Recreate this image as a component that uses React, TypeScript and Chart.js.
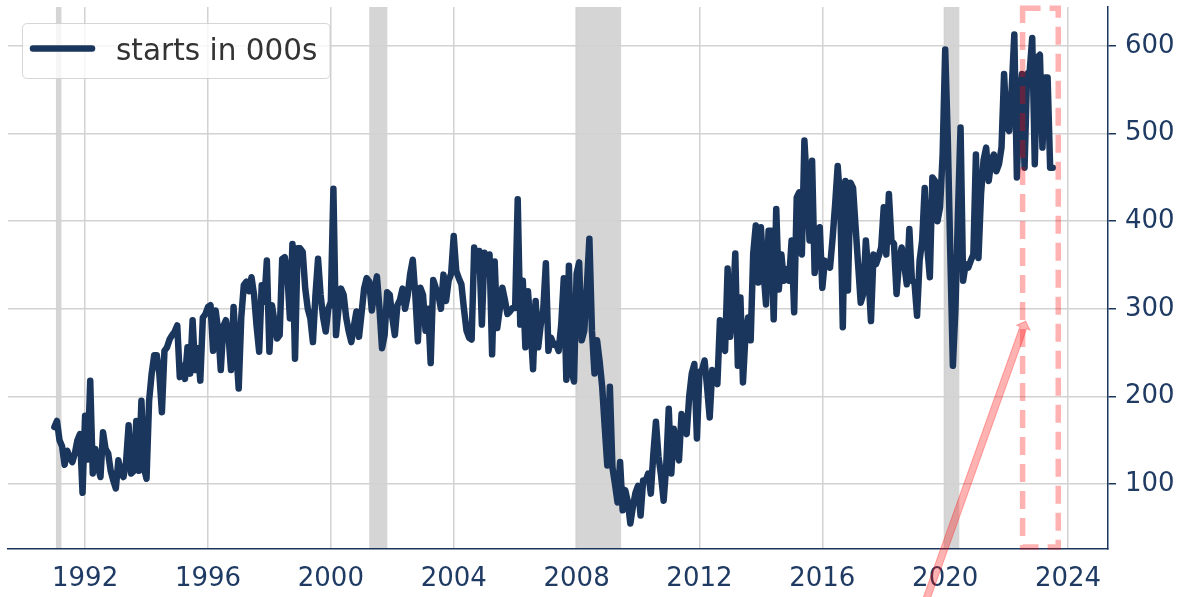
import React, { useEffect, useRef } from "react";
import { Chart, registerables } from "chart.js";

Chart.register(...registerables);

// ---- data (monthly, thousands of units), first value = Jan 1991 ----
const FIRST_YEAR = 1991;
const seriesLabel = "starts in 000s";

const starts1990s = [
  165, 172, 150, 143, 122, 138, 130, 125, 135, 150, 157, 90, // 1991
  178, 128, 218, 112, 140, 120, 108, 159, 140, 135, 115, 104, // 1992
  95, 127, 112, 108, 125, 167, 112, 115, 172, 115, 195, 118, // 1993
  106, 195, 226, 247, 247, 226, 182, 252, 256, 265, 270, 274, // 1994
  281, 222, 235, 220, 256, 226, 287, 230, 255, 218, 290, 294, // 1995
  302, 304, 252, 298, 275, 230, 280, 287, 270, 230, 302, 255, // 1996
  209, 290, 327, 331, 320, 336, 316, 280, 251, 327, 308, 355, // 1997
  251, 304, 285, 266, 270, 357, 359, 340, 289, 374, 243, 369, // 1998
  369, 365, 323, 300, 289, 262, 316, 357, 316, 290, 274, 300, // 1999
];
const starts2000s = [
  308, 437, 270, 300, 323, 316, 290, 274, 262, 280, 297, 268, // 2000
  295, 323, 335, 331, 298, 320, 337, 300, 255, 270, 319, 316, // 2001
  290, 270, 304, 310, 323, 300, 315, 340, 356, 316, 263, 324, // 2002
  316, 275, 300, 238, 333, 324, 316, 300, 339, 309, 332, 340, // 2003
  383, 343, 335, 328, 300, 275, 267, 265, 370, 345, 366, 282, // 2004
  364, 340, 362, 248, 354, 278, 300, 324, 310, 294, 297, 301, // 2005
  301, 425, 282, 332, 256, 320, 280, 231, 309, 256, 282, 300, // 2006
  352, 252, 267, 259, 260, 252, 282, 335, 219, 349, 229, 217, // 2007
  340, 353, 264, 275, 325, 380, 275, 226, 264, 240, 211, 165, // 2008
  121, 211, 119, 100, 79, 125, 70, 93, 80, 55, 74, 90, // 2009
];
const starts2010s = [
  98, 64, 104, 104, 112, 89, 135, 171, 131, 110, 81, 120, // 2010
  186, 112, 163, 140, 127, 180, 165, 157, 200, 226, 237, 152, // 2011
  228, 230, 241, 210, 176, 230, 220, 214, 287, 260, 252, 346, // 2012
  268, 300, 363, 235, 313, 216, 271, 290, 264, 363, 395, 330, // 2013
  393, 344, 305, 389, 389, 288, 414, 322, 362, 332, 345, 332, // 2014
  378, 296, 427, 433, 362, 492, 440, 378, 469, 341, 370, 393, // 2015
  324, 355, 350, 347, 380, 419, 463, 423, 279, 446, 321, 444, // 2016
  438, 393, 350, 307, 317, 378, 340, 286, 362, 351, 360, 370, // 2017
  416, 362, 431, 378, 374, 317, 355, 370, 350, 328, 391, 332, // 2018
  330, 292, 355, 378, 438, 370, 336, 450, 446, 400, 416, 476, // 2019
];
const starts2020s = [
  596, 495, 362, 235, 300, 410, 507, 332, 351, 347, 355, 362, // 2020
  476, 358, 431, 470, 484, 446, 469, 476, 457, 465, 484, 568, // 2021
  507, 503, 552, 613, 450, 533, 568, 461, 568, 571, 609, 465, // 2022
  587, 590, 484, 564, 564, 461, 461, // 2023 (Jan-Jul)
];

// ---- axis ticks ----
const xTickYears = [1992, 1996, 2000, 2004, 2008, 2012, 2016, 2020, 2024];
const yTickValues = [100, 200, 300, 400, 500, 600];
const X_MIN = 1989.49;
const X_MAX = 2025.3;
const Y_MIN = 25.8;
const Y_MAX = 644.5;

// ---- recession shading (decimal years) ----
const recessionStarts = [1991.05, 2001.25, 2007.96, 2019.95];
const recessionEnds = [1991.23, 2001.84, 2009.45, 2020.46];

// ---- highlight box and arrow (data coordinates) ----
const highlightX = [2022.52, 2023.68];
const highlightY = [28, 643];
const arrowFrom = [2019.3, -40];
const arrowTo = [2022.62, 286];

// ---- styles ----
const NAVY = "#1b365d";
const TEXT_NAVY = "#1f3b63";
const GRID = "#d2d2d2";
const FONT = '"DejaVu Sans", sans-serif';

const allStarts = [...starts1990s, ...starts2000s, ...starts2010s, ...starts2020s];
const points = allStarts.map((v, i) => ({ x: FIRST_YEAR + i / 12, y: v }));

const recessionPlugin = {
  id: "recessions",
  beforeDraw(chart: any) {
    const { ctx, chartArea, scales } = chart;
    ctx.save();
    ctx.fillStyle = "rgba(128,128,128,0.33)";
    recessionStarts.forEach((s, i) => {
      const x1 = scales.x.getPixelForValue(s);
      const x2 = scales.x.getPixelForValue(recessionEnds[i]);
      ctx.fillRect(x1, chartArea.top, x2 - x1, chartArea.bottom - chartArea.top);
    });
    ctx.restore();
  },
};

const annotationPlugin = {
  id: "annotations",
  afterDatasetsDraw(chart: any) {
    const { ctx, scales } = chart;
    const xs = scales.x;
    const ys = scales.y;
    ctx.save();
    // dashed highlight rectangle
    const l = xs.getPixelForValue(highlightX[0]);
    const r = xs.getPixelForValue(highlightX[1]);
    const t = ys.getPixelForValue(highlightY[1]);
    const b = ys.getPixelForValue(highlightY[0]);
    ctx.strokeStyle = "rgba(255,0,0,0.3)";
    ctx.lineWidth = 5.5;
    ctx.setLineDash([18, 9]);
    ctx.strokeRect(l, t, r - l, b - t);
    ctx.setLineDash([]);

    // arrow
    const x0 = xs.getPixelForValue(arrowFrom[0]);
    const y0 = ys.getPixelForValue(arrowFrom[1]);
    const x1 = xs.getPixelForValue(arrowTo[0]);
    const y1 = ys.getPixelForValue(arrowTo[1]);
    const ang = Math.atan2(y1 - y0, x1 - x0);
    const len = Math.hypot(x1 - x0, y1 - y0);
    const shaftW = 7;
    const headW = 14;
    const headL = 7;
    ctx.translate(x0, y0);
    ctx.rotate(ang);
    ctx.beginPath();
    ctx.moveTo(0, -shaftW / 2);
    ctx.lineTo(len - headL, -shaftW / 2);
    ctx.lineTo(len - headL, -headW / 2);
    ctx.lineTo(len, 0);
    ctx.lineTo(len - headL, headW / 2);
    ctx.lineTo(len - headL, shaftW / 2);
    ctx.lineTo(0, shaftW / 2);
    ctx.closePath();
    ctx.fillStyle = "rgba(255,0,0,0.3)";
    ctx.fill();
    ctx.strokeStyle = "rgba(255,0,0,0.3)";
    ctx.lineWidth = 1;
    ctx.stroke();
    ctx.restore();
  },
};

const legendPlugin = {
  id: "mplLegend",
  afterDraw(chart: any) {
    const { ctx } = chart;
    const label = chart.data.datasets[0].label;
    ctx.save();
    const bx = 22.5, by = 23.5, bw = 307.5, bh = 55, rad = 5;
    ctx.beginPath();
    ctx.moveTo(bx + rad, by);
    ctx.lineTo(bx + bw - rad, by);
    ctx.quadraticCurveTo(bx + bw, by, bx + bw, by + rad);
    ctx.lineTo(bx + bw, by + bh - rad);
    ctx.quadraticCurveTo(bx + bw, by + bh, bx + bw - rad, by + bh);
    ctx.lineTo(bx + rad, by + bh);
    ctx.quadraticCurveTo(bx, by + bh, bx, by + bh - rad);
    ctx.lineTo(bx, by + rad);
    ctx.quadraticCurveTo(bx, by, bx + rad, by);
    ctx.closePath();
    ctx.fillStyle = "rgba(255,255,255,0.8)";
    ctx.fill();
    ctx.strokeStyle = "rgba(204,204,204,0.8)";
    ctx.lineWidth = 1;
    ctx.stroke();

    ctx.beginPath();
    ctx.moveTo(33, 48.5);
    ctx.lineTo(92, 48.5);
    ctx.strokeStyle = NAVY;
    ctx.lineWidth = 6.5;
    ctx.lineCap = "round";
    ctx.stroke();

    ctx.font = `29.5px ${FONT}`;
    ctx.fillStyle = "#333333";
    ctx.textBaseline = "alphabetic";
    ctx.textAlign = "left";
    ctx.fillText(label, 116, 60);
    ctx.restore();
  },
};

function StartsChart() {
  const canvasRef = useRef<HTMLCanvasElement | null>(null);

  useEffect(() => {
    const canvas = canvasRef.current;
    if (!canvas) return;
    const chart = new Chart(canvas, {
      type: "line",
      data: {
        datasets: [
          {
            label: seriesLabel,
            data: points,
            borderColor: NAVY,
            backgroundColor: NAVY,
            borderWidth: 6.5,
            pointRadius: 0,
            tension: 0,
            borderJoinStyle: "round",
            borderCapStyle: "round",
            fill: false,
          },
        ],
      },
      options: {
        responsive: false,
        animation: false,
        devicePixelRatio: 1,
        parsing: false,
        normalized: true,
        layout: { padding: { left: 8, top: 7, right: 0, bottom: 0 } },
        plugins: {
          legend: { display: false },
          tooltip: { enabled: false },
        },
        scales: {
          x: {
            type: "linear",
            min: X_MIN,
            max: X_MAX,
            afterBuildTicks: (s: any) => {
              s.ticks = xTickYears.map((v) => ({ value: v }));
            },
            afterFit: (s: any) => {
              s.height = 48;
              s.paddingLeft = 0;
              s.paddingRight = 0;
            },
            grid: { color: GRID, lineWidth: 1.5, drawTicks: false },
            border: { display: true, color: NAVY, width: 1.5 },
            ticks: {
              color: TEXT_NAVY,
              font: { family: FONT, size: 26 },
              padding: 15,
              maxRotation: 0,
              autoSkip: false,
              callback: (v: any) => String(v),
            },
          },
          y: {
            type: "linear",
            position: "right",
            min: Y_MIN,
            max: Y_MAX,
            afterBuildTicks: (s: any) => {
              s.ticks = yTickValues.map((v) => ({ value: v }));
            },
            afterFit: (s: any) => {
              s.width = 77;
              s.paddingTop = 0;
              s.paddingBottom = 0;
            },
            grid: {
              color: GRID,
              lineWidth: 1.5,
              drawTicks: true,
              tickLength: 8,
              tickColor: NAVY,
              tickWidth: 1.5,
            },
            border: { display: true, color: NAVY, width: 1.5 },
            ticks: {
              color: TEXT_NAVY,
              font: { family: FONT, size: 26 },
              padding: 9,
              callback: (v: any) => String(v),
            },
          },
        },
      },
      plugins: [recessionPlugin, annotationPlugin, legendPlugin],
    } as any);
    return () => chart.destroy();
  }, []);

  return (
    <div style={{ position: "fixed", left: 0, top: 0, width: 1185, height: 597, background: "#ffffff" }}>
      <canvas ref={canvasRef} width={1185} height={597} style={{ display: "block" }} />
    </div>
  );
}

export default function App() {
  return <StartsChart />;
}
